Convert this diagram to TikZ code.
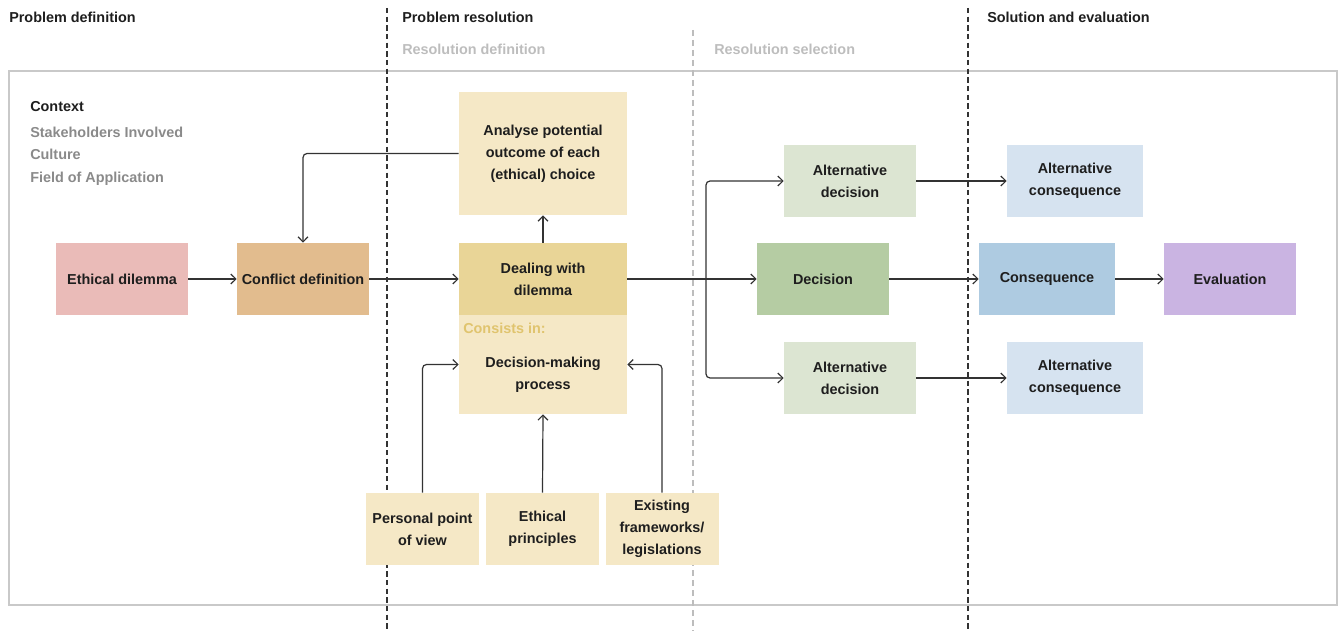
\documentclass[tikz,border=0pt]{standalone}
\usepackage{fontspec}
\setmainfont{Liberation Sans}
\usetikzlibrary{arrows.meta}
\definecolor{txt}{HTML}{1E1E1E}
\definecolor{lgray}{HTML}{BDBDBD}
\definecolor{mgray}{HTML}{8A8A8A}
\definecolor{frame}{HTML}{C9C9C9}
\definecolor{cPink}{HTML}{EABBB8}
\definecolor{cTan}{HTML}{E2BC8E}
\definecolor{cCream}{HTML}{F5E8C6}
\definecolor{cGold}{HTML}{E9D597}
\definecolor{cGoldTxt}{HTML}{E0C46E}
\definecolor{cAltDec}{HTML}{DCE5D2}
\definecolor{cDec}{HTML}{B5CCA3}
\definecolor{cAltCon}{HTML}{D6E3F0}
\definecolor{cCon}{HTML}{AECBE1}
\definecolor{cEval}{HTML}{CAB4E2}
\definecolor{lineC}{HTML}{333333}
\tikzset{
  every node/.style={font=\fontsize{10.8}{16.5}\selectfont\bfseries, text=txt},
  box/.style={fill=#1, draw=none, align=center, inner sep=2pt,
    minimum width=99pt, minimum height=54pt},
  wbox/.style={box=#1, minimum width=102pt},
  sbox/.style={box=#1, minimum width=84.75pt},
  conn/.style={draw=lineC, line width=0.9pt, -{Straight Barb[length=3.8pt,width=7.5pt]}, rounded corners=3pt},
  hdr/.style={anchor=base west, text=txt, inner sep=0pt},
  sub/.style={anchor=base west, text=lgray, inner sep=0pt},
  ctx/.style={anchor=base west, text=mgray, inner sep=0pt},
  darkdash/.style={draw=lineC, line width=0.9pt, dash pattern=on 4pt off 2.5pt},
  lightdash/.style={draw=lgray, line width=0.9pt, dash pattern=on 4.5pt off 3pt},
}
\begin{document}
\begin{tikzpicture}[x=0.75pt,y=-0.75pt]
\useasboundingbox (0,0) rectangle (1338,631);
% frame
\draw[frame, line width=0.9pt] (9,71) rectangle (1337,605);
% phase dividers
\draw[darkdash] (387,8) -- (387,631);
\draw[lightdash] (693,30) -- (693,631);
\draw[darkdash] (968,8) -- (968,631);
% headers
\node[hdr] (h1) at (9,23) {Problem definition};
\node[hdr] (h2) at (402,23) {Problem resolution};
\node[hdr] (h3) at (987,23) {Solution and evaluation};
\node[sub] (s1) at (402,55) {Resolution definition};
\node[sub] (s2) at (714,55) {Resolution selection};
% context
\node[hdr] (ctx0) at (30,112) {Context};
\node[ctx] (ctx1) at (30,138) {Stakeholders Involved};
\node[ctx] (ctx2) at (30,160) {Culture};
\node[ctx] (ctx3) at (30,183) {Field of Application};
% boxes
\node[box=cPink] (ed) at (122,279) {Ethical dilemma};
\node[box=cTan] (cd) at (303,279) {Conflict definition};
\node[box=cCream, minimum width=126pt, minimum height=92.25pt] (an) at (543,153.5) {Analyse potential\\outcome of each\\(ethical) choice};
\node[box=cGold, minimum width=126pt] (dw) at (543,279) {Dealing with\\dilemma};
\node[box=cCream, minimum width=126pt, minimum height=74.25pt] (dmp) at (543,364.5) {};
\node[anchor=base west, text=cGoldTxt, inner sep=0pt] (ci) at (463,333) {Consists in:};
\node[align=center] (dmpt) at (543,375) {Decision-making\\process};
\node[sbox=cCream] (ppv) at (422.5,529) {Personal point\\of view};
\node[sbox=cCream] (ep) at (542.5,529) {Ethical\\principles};
\node[sbox=cCream] (efl) at (662,529) {Existing\\frameworks/\\legislations};
\node[box=cAltDec] (ad1) at (850,181) {Alternative\\decision};
\node[box=cDec] (dec) at (823,279) {Decision};
\node[box=cAltDec] (ad2) at (850,378) {Alternative\\decision};
\node[wbox=cAltCon] (ac1) at (1075,181) {Alternative\\consequence};
\node[wbox=cCon] (con) at (1047,279) {Consequence};
\node[box=cEval] (ev) at (1230,279) {Evaluation};
\node[wbox=cAltCon] (ac2) at (1075,378) {Alternative\\consequence};
% connectors
\draw[conn] (ed) -- (cd);
\draw[conn] (cd) -- (dw);
\draw[conn] (an.west) -| (cd.north);
\draw[conn] (dw.north) -- (an.south);
\coordinate (br) at (706,279);
\draw[conn] (dw.east) -- (dec.west);
\draw[conn] (br) |- (ad1.west);
\draw[conn] (br) |- (ad2.west);
\draw[conn] (dec) -- (con);
\draw[conn] (con) -- (ev);
\draw[conn] (ad1) -- (ac1);
\draw[conn] (ad2) -- (ac2);
\draw[conn] (ppv.north) |- (dmp.west);
\draw[conn] (ep.north) -- (dmp.south);
\draw[conn] (efl.north) |- (dmp.east);
\end{tikzpicture}
\end{document}
